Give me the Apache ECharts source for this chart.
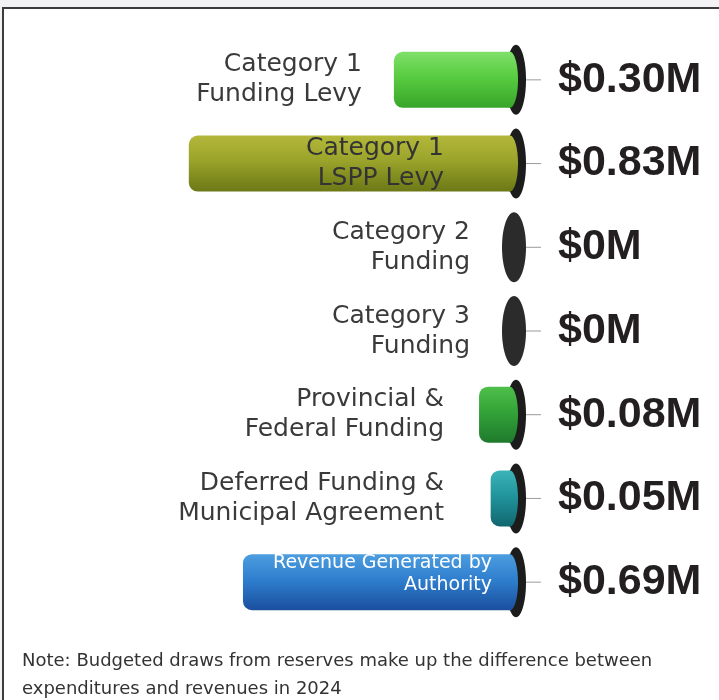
<!DOCTYPE html>
<html>
<head>
<meta charset="utf-8">
<title>Revenue sources 2024</title>
<script src="https://cdn.jsdelivr.net/npm/echarts@6.0.0/dist/echarts.min.js"></script>
<style>
  html, body {
    margin: 0;
    padding: 0;
    background: #f2f2f4;
    overflow: hidden;
  }
  #frame {
    position: absolute;
    left: 2px;
    top: 7px;
    width: 760px;
    height: 760px;
    background: #ffffff;
    border: 2px solid #3c3c3c;
  }
  #revenueChart {
    position: absolute;
    left: 0;
    top: 0;
    width: 719px;
    height: 700px;
  }
</style>
</head>
<body>
<div id="frame"></div>
<div id="revenueChart"></div>
<script>
  // chart data
  const categories = [
    'Category 1\nFunding Levy',
    'Category 1\nLSPP Levy',
    'Category 2\nFunding',
    'Category 3\nFunding',
    'Provincial &\nFederal Funding',
    'Deferred Funding &\nMunicipal Agreement',
    'Revenue Generated by\nAuthority'
  ]
  const values = [0.30, 0.83, 0, 0, 0.08, 0.05, 0.69]
  const valueLabels = ['$0.30M', '$0.83M', '$0M', '$0M', '$0.08M', '$0.05M', '$0.69M']

  // cylinder colours (top, middle, bottom)
  const barColors = [
    ['#7fe06a', '#58cc40', '#38a52a'],
    ['#b3b83a', '#9aa32a', '#6c7816'],
    ['#333333', '#2b2b2b', '#222222'],
    ['#333333', '#2b2b2b', '#222222'],
    ['#4fbf4a', '#33a338', '#1e7a2c'],
    ['#3bb4b8', '#21959c', '#12676f'],
    ['#4d9de0', '#2f7fcf', '#1a4f9e']
  ]
  // where the category text goes: beside the bar, or on top of it
  const labelStyles = [
    { inside: false },
    { inside: true, right: 66, color: '#333333', size: 25, lh: 30, dy: 0 },
    { inside: false },
    { inside: false },
    { inside: false },
    { inside: false },
    { inside: true, right: 18, color: '#ffffff', size: 19, lh: 22, dy: -8 }
  ]

  const myChart = echarts.init(document.getElementById('revenueChart'))

  function renderCylinder (params, api) {
    const i = params.dataIndex
    const v = api.value(1)
    const x0 = api.coord([0, i])[0]
    const xl = api.coord([v, i])[0]
    const yc = api.coord([0, i])[1]
    const c = barColors[i]
    const grad = () => new echarts.graphic.LinearGradient(0, 0, 0, 1, [
      { offset: 0, color: c[0] },
      { offset: 0.45, color: c[1] },
      { offset: 1, color: c[2] }
    ])
    const children = []
    if (v > 0) {
      children.push({
        type: 'ellipse',
        shape: { cx: x0 + 6, cy: yc, rx: 10, ry: 35 },
        style: { fill: '#1c1c1c' }
      })
      children.push({
        type: 'rect',
        shape: { x: xl, y: yc - 28, width: x0 - xl, height: 56, r: [9, 0, 0, 9] },
        style: { fill: grad() }
      })
      children.push({
        type: 'ellipse',
        shape: { cx: x0, cy: yc, rx: 8, ry: 28 },
        style: { fill: grad() }
      })
    } else {
      children.push({
        type: 'ellipse',
        shape: { cx: x0 + 4, cy: yc, rx: 12, ry: 35 },
        style: { fill: '#2b2b2b' }
      })
    }
    // small leader tick and value
    children.push({
      type: 'line',
      shape: { x1: x0 + 16, y1: yc, x2: x0 + 31, y2: yc },
      style: { stroke: '#9a9a9a', lineWidth: 1 }
    })
    children.push({
      type: 'text',
      style: {
        text: valueLabels[i],
        x: x0 + 48,
        y: yc,
        align: 'left',
        verticalAlign: 'middle',
        font: 'bold 43px "Liberation Sans", Arial, sans-serif',
        fill: '#231f20'
      }
    })
    // category name
    const ls = labelStyles[i]
    let tx = Math.min(xl - 32, x0 - 66)
    if (v === 0) tx = x0 - 40
    let ty = yc
    let fill = '#3a3a3a'
    let size = 25
    let lh = 30
    if (ls.inside) {
      tx = x0 - ls.right
      ty = yc + ls.dy
      fill = ls.color
      size = ls.size
      lh = ls.lh
    }
    children.push({
      type: 'text',
      style: {
        text: categories[i],
        x: tx,
        y: ty,
        align: 'right',
        verticalAlign: 'middle',
        font: size + 'px "DejaVu Sans", sans-serif',
        lineHeight: lh,
        fill: fill
      }
    })
    return { type: 'group', children: children }
  }

  const option = {
    animation: false,
    grid: {
      left: 123,
      right: 209,
      top: 38,
      height: 586
    },
    xAxis: {
      type: 'value',
      inverse: true,
      min: 0,
      max: 1,
      show: false
    },
    yAxis: {
      type: 'category',
      inverse: true,
      data: categories,
      show: false
    },
    graphic: [
      {
        type: 'text',
        left: 22,
        top: 647,
        style: {
          text: 'Note: Budgeted draws from reserves make up the difference between\nexpenditures and revenues in 2024',
          font: '18px "DejaVu Sans", sans-serif',
          lineHeight: 28,
          fill: '#333333'
        }
      }
    ],
    series: [
      {
        type: 'custom',
        renderItem: renderCylinder,
        encode: { x: 1, y: 0 },
        data: values.map(function (v, i) {
          return [i, v]
        })
      }
    ]
  }
  myChart.setOption(option)
</script>
</body>
</html>
